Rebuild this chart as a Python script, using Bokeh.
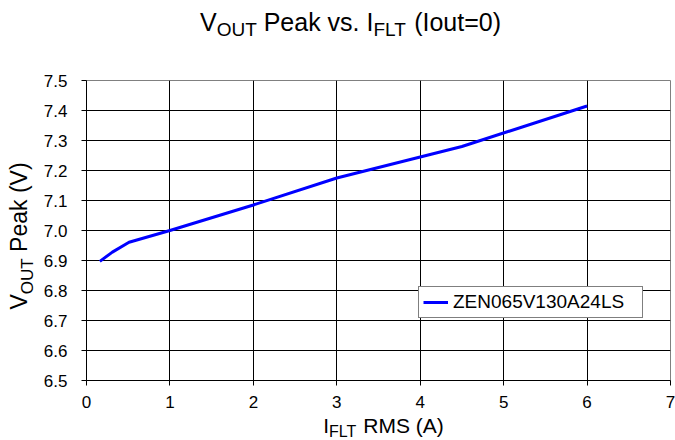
import math
from bokeh.plotting import figure
from bokeh.models import Label, FixedTicker, PrintfTickFormatter, Range1d
from bokeh.layouts import column, row
from bokeh.embed import file_html
from bokeh.resources import INLINE

# ---- data ----
i_flt = [0.16, 0.31, 0.51, 1.0, 2.0, 3.0, 4.5, 6.0]
v_out_peak = [6.897, 6.928, 6.961, 7.0, 7.085, 7.175, 7.28, 7.415]
series_name = "ZEN065V130A24LS"
x_ticks = [0, 1, 2, 3, 4, 5, 6, 7]
y_ticks = [6.5, 6.6, 6.7, 6.8, 6.9, 7.0, 7.1, 7.2, 7.3, 7.4, 7.5]

FONT = "Liberation Sans"

# ---- main chart ----
p = figure(width=639, height=369, output_backend="svg", toolbar_location=None,
           x_range=Range1d(0, 7), y_range=Range1d(6.5, 7.5),
           min_border_left=50, min_border_right=5, min_border_top=35, min_border_bottom=34)
p.background_fill_color = "white"
p.border_fill_color = "white"
p.outline_line_color = "#808080"
p.outline_line_width = 1

p.xaxis.ticker = FixedTicker(ticks=x_ticks)
p.yaxis.ticker = FixedTicker(ticks=y_ticks)
p.yaxis.formatter = PrintfTickFormatter(format="%.1f")
for ax in (p.xaxis, p.yaxis):
    ax.axis_line_color = "black"
    ax.major_tick_line_color = "black"
    ax.minor_tick_line_color = None
    ax.major_tick_out = 5
    ax.major_tick_in = 0
    ax.major_label_text_font = FONT
    ax.major_label_text_font_size = "17px"
    ax.major_label_text_color = "black"
p.yaxis.major_label_standoff = 14
p.xaxis.major_label_standoff = 10
p.xgrid.grid_line_color = "black"
p.ygrid.grid_line_color = "black"

p.line(i_flt, v_out_peak, line_color="#0000FF", line_width=3, legend_label=series_name)

lg = p.legend[0]
lg.location = (332, 62)
lg.padding = 4
lg.margin = 0
lg.glyph_width = 25
lg.glyph_height = 20
lg.label_height = 20
lg.label_standoff = 5
lg.label_width = 185
lg.label_text_font = FONT
lg.label_text_font_size = "19px"
lg.label_text_color = "black"
lg.border_line_color = "black"
lg.border_line_width = 1
lg.background_fill_color = "white"
lg.background_fill_alpha = 1

# ---- text with subscripts (Arial/Liberation Sans advance widths) ----
W = {'V': 667, 'O': 778, 'U': 722, 'T': 611, ' ': 278, 'P': 667, 'e': 556, 'a': 556,
     'k': 500, 'v': 500, 's': 500, '.': 278, 'I': 278, 'F': 611, 'L': 556, '(': 333,
     'l': 222, 'o': 556, 'u': 556, 't': 278, '=': 584, '0': 556, ')': 333, 'R': 722,
     'M': 833, 'S': 667, 'A': 667}


def tw(s, size):
    return sum(W.get(c, 556) for c in s) * size / 1000.0


def bfix(size):
    # label anchor sits near the middle of the text box; shift to put baseline at target
    return 0.37 * size


def text_fig(w, h):
    f = figure(width=w, height=h, output_backend="svg", toolbar_location=None,
               x_range=Range1d(0, 1), y_range=Range1d(0, 1),
               x_axis_type=None, y_axis_type=None,
               min_border=0, min_border_left=0, min_border_right=0,
               min_border_top=0, min_border_bottom=0)
    f.outline_line_color = None
    f.background_fill_color = "white"
    f.border_fill_color = "white"
    f.grid.visible = False
    return f


def add_pieces(f, pieces, x0, y0, vertical=False):
    pos = x0 if not vertical else y0
    for text, size, off in pieces:
        lead = len(text) - len(text.lstrip(" "))
        pos += tw(" " * lead, size)
        body = text.lstrip(" ")
        if vertical:
            lab = Label(x=x0 + off - bfix(size), y=pos, x_units="screen", y_units="screen", text=body,
                        angle=math.pi / 2, text_font=FONT, text_font_size=f"{size}px",
                        text_color="black", text_align="left", text_baseline="alphabetic")
        else:
            lab = Label(x=pos, y=y0 + off + bfix(size), x_units="screen", y_units="screen", text=body,
                        text_font=FONT, text_font_size=f"{size}px",
                        text_color="black", text_align="left", text_baseline="alphabetic")
        f.add_layout(lab)
        pos += tw(body, size)


# title
tf = text_fig(675, 45)
title_pieces = [("V", 25, 0), ("OUT", 19, -5), (" Peak vs. I", 25, 0), ("FLT", 19, -5), (" (Iout=0)", 25, 0)]
tw_total = sum(tw(t, s) for t, s, _ in title_pieces)
add_pieces(tf, title_pieces, 350 - tw_total / 2, 14)

# y-axis label (its frame lines up with the chart frame)
yf = text_fig(36, 369)
yl_pieces = [("V", 23, 0), ("OUT", 17, 6), (" Peak (V)", 23, 0)]
add_pieces(yf, yl_pieces, 27, 71, vertical=True)

# x-axis label
xf = text_fig(675, 26)
xl_pieces = [("I", 21, 0), ("FLT", 16, -3.5), (" RMS (A)", 21, 0)]
xl_total = sum(tw(t, s) for t, s, _ in xl_pieces)
add_pieces(xf, xl_pieces, 383 - xl_total / 2, 7)

layout = column(tf, row(yf, p), xf)

open("out.html", "w").write(file_html(layout, INLINE))
